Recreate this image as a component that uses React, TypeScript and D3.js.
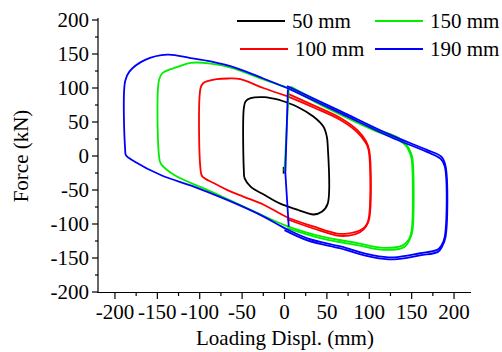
import * as d3 from "d3";

type Pt = [number, number];

// hysteresis loops, [displacement mm, force kN]
const loop50: Pt[] = [
  [-5, 82], [15, 72.5], [34, 58], [46, 43], [50, 28], [51, 15], [51, -70],
  [44, -82], [34.5, -86], [27, -84], [15, -79], [-5, -70], [-24, -57],
  [-40, -45], [-47, -33], [-48, -20], [-48, 70], [-46, 80], [-40, 85],
  [-24, 86.5], [-5, 82],
];

const loop100: Pt[] = [
  [3, 88], [35, 71], [66, 53], [85, 36], [95, 21], [99, 10], [99, -94],
  [95, -104], [88, -110], [74, -114], [62, -114], [35, -104], [3, -90],
  [-24, -72], [-48, -60], [-64, -52], [-83, -40], [-97, -30], [-99, -20],
  [-99, 100], [-96, 107], [-91, 110], [-80, 113], [-67, 114], [-52, 113],
  [-25, 100], [3, 88],
];

const loop150: Pt[] = [
  [7, 99], [54, 68], [105, 38], [134, 24], [144, 14], [148, 4], [150, -5],
  [150, -109], [147, -122], [140, -131], [117, -135], [86, -128], [46, -119],
  [3, -103], [-40, -79], [-87, -52], [-130, -28], [-146, -11], [-148, 0],
  [-148, 112], [-144, 122], [-126, 131], [-111, 137], [-87, 136], [-60, 129],
  [-30, 115], [7, 99],
];

const loop190: Pt[] = [
  [3, 100], [66, 63], [125, 28], [168, 6], [184, -4], [189, -15],
  [189, -119], [185, -132], [180, -138], [160, -143], [129, -149],
  [105, -146], [66, -133], [27, -121], [0, -106], [-28, -87], [-67, -65],
  [-107, -45], [-146, -28], [-177, -8], [-187, 1], [-188, 10],
  [-188, 110], [-183, 124], [-165, 141], [-138, 149], [-111, 144],
  [-87, 139], [-56, 129], [-25, 114], [3, 100],
];

// second cycle, right half only (where the doubled trace shows)
const loop100b: Pt[] = [
  [3, -93], [35, -107], [62, -117], [76, -117], [89, -112], [96, -104],
  [100, -92], [100, 8], [96, 22], [86, 38], [66, 56], [35, 74], [3, 92],
];
const loop150b: Pt[] = [
  [3, -106], [46, -122], [86, -131], [117, -138], [141, -134], [148, -122],
  [151, -109], [151, -4], [149, 5], [144, 16], [134, 27], [105, 41],
  [54, 71], [7, 102],
];
const loop190b: Pt[] = [
  [0, -109], [27, -124], [66, -136], [105, -149], [129, -152], [160, -146],
  [181, -141], [186, -133], [190, -119], [190, -15], [185, -1], [168, 9],
  [125, 31], [66, 66], [3, 103],
];

// initial loading paths near zero displacement
const init150: Pt[] = [[5, 98], [0, -22]];
const init190: Pt[] = [[4, 98], [1, -25], [5, -104]];
const init50: Pt[] = [[-1, -16], [-1, -26]];

const seriesNames = ["50 mm", "100 mm", "150 mm", "190 mm"];
const seriesColors = ["#000000", "#ff0000", "#00ee00", "#0000ff"];

const xTicks = [-200, -150, -100, -50, 0, 50, 100, 150, 200];
const yTicks = [-200, -150, -100, -50, 0, 50, 100, 150, 200];

const W = 502;
const H = 352;

export default function App() {
  const x = d3.scaleLinear().domain([-220, 220]).range([98, 471]);
  const y = d3.scaleLinear().domain([-200, 200]).range([292, 20]);

  const line = d3
    .line<Pt>()
    .x((d) => x(d[0]))
    .y((d) => y(d[1]))
    .curve(d3.curveCatmullRom.alpha(0.5));

  const straight = d3
    .line<Pt>()
    .x((d) => x(d[0]))
    .y((d) => y(d[1]));

  const loops = [loop50, loop100, loop150, loop190];
  const seconds: (Pt[] | null)[] = [null, loop100b, loop150b, loop190b];
  const inits: (Pt[] | null)[] = [init50, null, init150, init190];

  const xMinor = d3.range(-200, 201, 25).filter((v) => v % 50 !== 0);
  const yMinor = d3.range(-200, 201, 25).filter((v) => v % 50 !== 0);

  const fmt = (v: number) => (v < 0 ? "-" + Math.abs(v) : String(v));
  const font = "'Liberation Serif', 'Times New Roman', serif";

  const legendPos = [
    { x: 237, y: 21 },
    { x: 240, y: 49 },
    { x: 375, y: 21 },
    { x: 375, y: 49 },
  ];

  return (
    <svg
      width={W}
      height={H}
      style={{ position: "absolute", left: 0, top: 0, background: "#fff" }}
      fontFamily={font}
    >
      {/* axes */}
      <g stroke="#000" strokeWidth={1.2}>
        <line x1={98} x2={98} y1={18} y2={293} />
        <line x1={97.4} x2={471} y1={292.5} y2={292.5} />
        {yTicks.map((t) => (
          <line key={"yt" + t} x1={92} x2={98} y1={y(t)} y2={y(t)} />
        ))}
        {yMinor.map((t) => (
          <line key={"ym" + t} x1={95} x2={98} y1={y(t)} y2={y(t)} />
        ))}
        {xTicks.map((t) => (
          <line key={"xt" + t} x1={x(t)} x2={x(t)} y1={292.5} y2={299} />
        ))}
        {xMinor.map((t) => (
          <line key={"xm" + t} x1={x(t)} x2={x(t)} y1={292.5} y2={296} />
        ))}
      </g>
      <g fontSize={21} fill="#000">
        {yTicks.map((t) => (
          <text key={"yl" + t} x={89} y={y(t)} dy="0.35em" textAnchor="end">
            {fmt(t)}
          </text>
        ))}
        {xTicks.map((t) => (
          <text key={"xl" + t} x={x(t)} y={319} textAnchor="middle">
            {fmt(t)}
          </text>
        ))}
        <text x={285} y={345} textAnchor="middle">
          Loading Displ. (mm)
        </text>
        <text
          transform="translate(28,156) rotate(-90)"
          textAnchor="middle"
        >
          Force (kN)
        </text>
      </g>

      {/* curves */}
      <g fill="none" strokeWidth={1.8} strokeLinejoin="round">
        {loops.map((d, i) => (
          <g key={"s" + i} stroke={seriesColors[i]}>
            <path d={line(d) || ""} />
            {seconds[i] && <path d={line(seconds[i] as Pt[]) || ""} />}
            {inits[i] && <path d={straight(inits[i] as Pt[]) || ""} />}
          </g>
        ))}
      </g>

      {/* legend */}
      <g fontSize={21}>
        {seriesNames.map((n, i) => (
          <g key={"lg" + i}>
            <line
              x1={legendPos[i].x}
              x2={legendPos[i].x + 48}
              y1={legendPos[i].y}
              y2={legendPos[i].y}
              stroke={seriesColors[i]}
              strokeWidth={2}
            />
            <text x={legendPos[i].x + 55} y={legendPos[i].y + 7}>
              {n}
            </text>
          </g>
        ))}
      </g>
    </svg>
  );
}
